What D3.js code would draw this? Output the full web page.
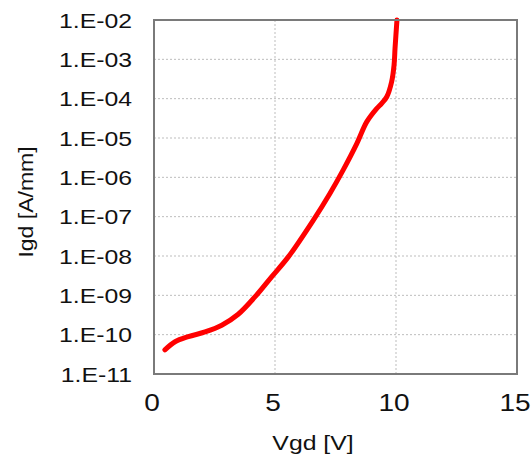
<!DOCTYPE html>
<html>
<head>
<meta charset="utf-8">
<script src="https://cdn.jsdelivr.net/npm/d3@7/dist/d3.min.js"></script>
<style>
  html, body { margin: 0; padding: 0; background: #fff; }
  svg { display: block; }
  text { font-family: "Liberation Sans", Arial, sans-serif; fill: #111; }
</style>
</head>
<body>
<svg id="chart" width="532" height="454"></svg>
<script>
// Gate-drain leakage current versus gate-drain voltage
const vgd = [0.45, 0.87, 1.42, 2.11, 2.8, 3.48, 4.17, 4.86, 5.55, 6.58, 7.27, 7.82, 8.38, 8.79, 9.2, 9.41, 9.62, 9.82, 9.92, 9.96, 10.04];
const igd = [4.1e-11, 6.6e-11, 8.9e-11, 1.17e-10, 1.74e-10, 3.3e-10, 9.1e-10, 2.95e-9, 9.5e-9, 8.1e-8, 3.9e-7, 1.55e-6, 7.2e-6, 2.57e-5, 5.6e-5, 7.6e-5, 1.12e-4, 2.7e-4, 7.2e-4, 1.9e-3, 1e-2];

const xTicks = [0, 5, 10, 15];
const yTicks = [1e-11, 1e-10, 1e-9, 1e-8, 1e-7, 1e-6, 1e-5, 1e-4, 1e-3, 1e-2];
const yTickLabels = ["1.E-11", "1.E-10", "1.E-09", "1.E-08", "1.E-07", "1.E-06", "1.E-05", "1.E-04", "1.E-03", "1.E-02"];
const xTitle = "Vgd  [V]";
const yTitle = "Igd [A/mm]";

const plot = { left: 154, right: 517, top: 20, bottom: 374 };

const svg = d3.select("#chart");
const x = d3.scaleLinear().domain([0, 15]).range([plot.left, plot.right]);
const y = d3.scaleLog().domain([1e-11, 1e-2]).range([plot.bottom, plot.top]);

// dashed grid
const grid = svg.append("g");
grid.selectAll("line.h").data(yTicks.slice(1, -1)).enter().append("line")
  .attr("x1", plot.left).attr("x2", plot.right)
  .attr("y1", d => y(d)).attr("y2", d => y(d))
  .attr("stroke", "#bdbdbd").attr("stroke-width", 1).attr("stroke-dasharray", "2,2");
grid.selectAll("line.v").data(xTicks.slice(1, -1)).enter().append("line")
  .attr("y1", plot.top).attr("y2", plot.bottom)
  .attr("x1", d => x(d)).attr("x2", d => x(d))
  .attr("stroke", "#bdbdbd").attr("stroke-width", 1).attr("stroke-dasharray", "2,2");

// curve
const line = d3.line().x((d, i) => x(vgd[i])).y((d, i) => y(igd[i])).curve(d3.curveCatmullRom.alpha(0.5));
svg.append("path").datum(igd).attr("d", line)
  .attr("fill", "none").attr("stroke", "#ff0000").attr("stroke-width", 5)
  .attr("stroke-linecap", "round").attr("stroke-linejoin", "round");

// frame
svg.append("rect").attr("x", plot.left).attr("y", plot.top)
  .attr("width", plot.right - plot.left).attr("height", plot.bottom - plot.top)
  .attr("fill", "none").attr("stroke", "#7a7a7a").attr("stroke-width", 2);

// y tick labels
const yl = svg.append("g");
yTicks.forEach((t, i) => {
  yl.append("g").attr("transform", `translate(132,${y(t) + 7.5}) scale(1.24,1)`)
    .append("text").attr("text-anchor", "end").attr("font-size", 20).text(yTickLabels[i]);
});

// x tick labels
const xl = svg.append("g");
xTicks.forEach(t => {
  xl.append("g").attr("transform", `translate(${x(t) - 2},411) scale(1.22,1)`)
    .append("text").attr("text-anchor", "middle").attr("font-size", 23).text(d3.format("d")(t));
});

// axis titles
svg.append("g").attr("transform", "translate(313,450) scale(1.24,1)")
  .append("text").attr("text-anchor", "middle").attr("font-size", 20).text(xTitle);
svg.append("g").attr("transform", "translate(33,202) rotate(-90) scale(1.15,1)")
  .append("text").attr("text-anchor", "middle").attr("font-size", 20).text(yTitle);
</script>
</body>
</html>
